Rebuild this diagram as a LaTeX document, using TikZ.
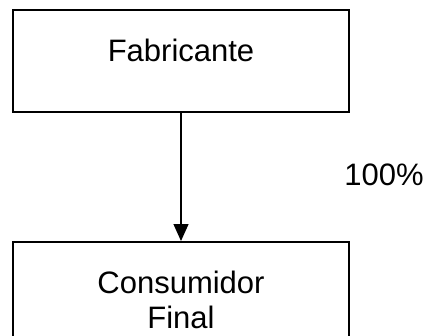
\documentclass[tikz,border=0pt]{standalone}
\usepackage{fontspec}
\setmainfont{Liberation Sans}
\usepackage{tikz}
\usetikzlibrary{arrows.meta}
\newcommand{\bigtext}{\fontsize{31}{35}\selectfont}

\begin{document}
\begin{tikzpicture}[x=1pt,y=-1pt,-{Triangle[length=17pt,width=15pt]},line width=1.3pt]
    \tikzstyle{every node}=[font=\bigtext,text=black]
    \tikzset{boxnode/.style={draw=black,line width=2pt,minimum width=336pt,align=center,inner sep=0pt}}
    \useasboundingbox (0,0) rectangle (427,335);
    \node[boxnode,minimum height=102pt,text depth=22pt] (fab) at (181,61) {Fabricante};
    \node[boxnode,minimum height=116pt] (cons) at (181,300) {Consumidor\\Final};
    \node (pct) at (384,175) {100\%};
    \path (fab) edge (cons);
  \end{tikzpicture}
\end{document}
